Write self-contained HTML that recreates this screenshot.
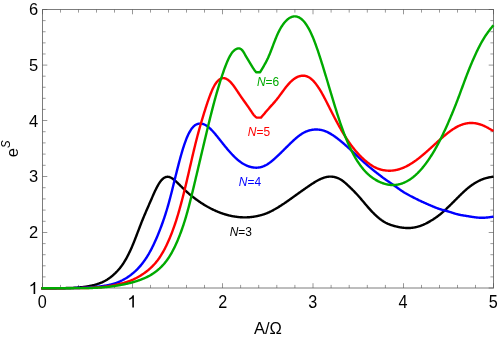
<!DOCTYPE html>
<html><head><meta charset="utf-8"><title>chart</title>
<style>
html,body{margin:0;padding:0;background:#fff;}
body{width:498px;height:339px;overflow:hidden;}
svg{display:block;font-family:"Liberation Sans",sans-serif;will-change:transform;}
</style></head><body>
<svg width="498" height="339" viewBox="0 0 498 339">
<rect width="498" height="339" fill="#fff"/>
<g fill="none" stroke="#7c7c7c" stroke-width="1.0">
<rect x="42.5" y="9.5" width="451.0" height="278.5"/>
<path d="M42.50,288.0 v-4.8 M42.50,9.5 v4.8 M42.5,288.00 h4.8 M493.5,288.00 h-4.8 M132.50,288.0 v-4.8 M132.50,9.5 v4.8 M42.5,232.50 h4.8 M493.5,232.50 h-4.8 M222.50,288.0 v-4.8 M222.50,9.5 v4.8 M42.5,176.50 h4.8 M493.5,176.50 h-4.8 M313.00,288.0 v-4.8 M313.00,9.5 v4.8 M42.5,120.50 h4.8 M493.5,120.50 h-4.8 M403.50,288.0 v-4.8 M403.50,9.5 v4.8 M42.5,65.10 h4.8 M493.5,65.10 h-4.8 M493.50,288.0 v-4.8 M493.50,9.5 v4.8 M42.5,9.50 h4.8 M493.5,9.50 h-4.8" stroke="#505050" stroke-width="0.6"/>
<path d="M60.50,288.0 v-3.1 M60.50,9.5 v3.1 M42.5,276.90 h3.1 M493.5,276.90 h-3.1 M78.50,288.0 v-3.1 M78.50,9.5 v3.1 M42.5,265.80 h3.1 M493.5,265.80 h-3.1 M96.50,288.0 v-3.1 M96.50,9.5 v3.1 M42.5,254.70 h3.1 M493.5,254.70 h-3.1 M114.50,288.0 v-3.1 M114.50,9.5 v3.1 M42.5,243.60 h3.1 M493.5,243.60 h-3.1 M150.50,288.0 v-3.1 M150.50,9.5 v3.1 M42.5,221.30 h3.1 M493.5,221.30 h-3.1 M168.50,288.0 v-3.1 M168.50,9.5 v3.1 M42.5,210.10 h3.1 M493.5,210.10 h-3.1 M186.50,288.0 v-3.1 M186.50,9.5 v3.1 M42.5,198.90 h3.1 M493.5,198.90 h-3.1 M204.50,288.0 v-3.1 M204.50,9.5 v3.1 M42.5,187.70 h3.1 M493.5,187.70 h-3.1 M240.60,288.0 v-3.1 M240.60,9.5 v3.1 M42.5,165.30 h3.1 M493.5,165.30 h-3.1 M258.70,288.0 v-3.1 M258.70,9.5 v3.1 M42.5,154.10 h3.1 M493.5,154.10 h-3.1 M276.80,288.0 v-3.1 M276.80,9.5 v3.1 M42.5,142.90 h3.1 M493.5,142.90 h-3.1 M294.90,288.0 v-3.1 M294.90,9.5 v3.1 M42.5,131.70 h3.1 M493.5,131.70 h-3.1 M331.10,288.0 v-3.1 M331.10,9.5 v3.1 M42.5,109.42 h3.1 M493.5,109.42 h-3.1 M349.20,288.0 v-3.1 M349.20,9.5 v3.1 M42.5,98.34 h3.1 M493.5,98.34 h-3.1 M367.30,288.0 v-3.1 M367.30,9.5 v3.1 M42.5,87.26 h3.1 M493.5,87.26 h-3.1 M385.40,288.0 v-3.1 M385.40,9.5 v3.1 M42.5,76.18 h3.1 M493.5,76.18 h-3.1 M421.50,288.0 v-3.1 M421.50,9.5 v3.1 M42.5,53.98 h3.1 M493.5,53.98 h-3.1 M439.50,288.0 v-3.1 M439.50,9.5 v3.1 M42.5,42.86 h3.1 M493.5,42.86 h-3.1 M457.50,288.0 v-3.1 M457.50,9.5 v3.1 M42.5,31.74 h3.1 M493.5,31.74 h-3.1 M475.50,288.0 v-3.1 M475.50,9.5 v3.1 M42.5,20.62 h3.1 M493.5,20.62 h-3.1" stroke="#585858" stroke-width="0.6"/>
</g>
<g fill="none" stroke-width="2.4" stroke-linejoin="round" stroke-linecap="butt">
<path d="M41.30,288.20 L42.50,288.20 L42.95,288.20 L43.40,288.20 L43.85,288.20 L44.30,288.20 L44.76,288.20 L45.21,288.20 L45.66,288.20 L46.11,288.20 L46.56,288.20 L47.01,288.20 L47.46,288.20 L47.91,288.20 L48.36,288.20 L48.81,288.20 L49.27,288.20 L49.72,288.20 L50.17,288.20 L50.62,288.20 L51.07,288.20 L51.52,288.20 L51.97,288.20 L52.42,288.20 L52.87,288.20 L53.32,288.19 L53.77,288.19 L54.23,288.19 L54.68,288.19 L55.13,288.19 L55.58,288.18 L56.03,288.18 L56.48,288.18 L56.93,288.17 L57.38,288.17 L57.83,288.17 L58.29,288.16 L58.74,288.16 L59.19,288.16 L59.64,288.15 L60.09,288.15 L60.54,288.14 L60.99,288.14 L61.44,288.13 L61.89,288.13 L62.34,288.12 L62.80,288.12 L63.25,288.11 L63.70,288.11 L64.15,288.10 L64.60,288.09 L65.05,288.09 L65.50,288.08 L65.95,288.07 L66.40,288.06 L66.85,288.05 L67.31,288.04 L67.76,288.03 L68.21,288.02 L68.66,288.00 L69.11,287.99 L69.56,287.98 L70.01,287.96 L70.46,287.95 L70.91,287.93 L71.36,287.91 L71.81,287.89 L72.27,287.87 L72.72,287.85 L73.17,287.83 L73.62,287.81 L74.07,287.79 L74.52,287.76 L74.97,287.73 L75.42,287.71 L75.87,287.68 L76.33,287.65 L76.78,287.62 L77.23,287.58 L77.68,287.55 L78.13,287.51 L78.58,287.48 L79.03,287.44 L79.48,287.40 L79.93,287.35 L80.38,287.31 L80.83,287.27 L81.29,287.22 L81.74,287.17 L82.19,287.12 L82.64,287.07 L83.09,287.01 L83.54,286.96 L83.99,286.90 L84.44,286.84 L84.89,286.78 L85.34,286.71 L85.80,286.65 L86.25,286.58 L86.70,286.51 L87.15,286.44 L87.60,286.36 L88.05,286.29 L88.50,286.21 L88.95,286.13 L89.40,286.04 L89.86,285.96 L90.31,285.87 L90.76,285.77 L91.21,285.68 L91.66,285.58 L92.11,285.48 L92.56,285.38 L93.01,285.27 L93.46,285.16 L93.91,285.05 L94.37,284.94 L94.82,284.82 L95.27,284.69 L95.72,284.57 L96.17,284.44 L96.62,284.30 L97.07,284.16 L97.52,284.02 L97.97,283.87 L98.42,283.72 L98.88,283.57 L99.33,283.41 L99.78,283.24 L100.23,283.07 L100.68,282.89 L101.13,282.71 L101.58,282.52 L102.03,282.33 L102.48,282.12 L102.93,281.92 L103.39,281.70 L103.84,281.48 L104.29,281.25 L104.74,281.01 L105.19,280.77 L105.64,280.51 L106.09,280.25 L106.54,279.98 L106.99,279.70 L107.44,279.42 L107.89,279.12 L108.35,278.82 L108.80,278.51 L109.25,278.19 L109.70,277.86 L110.15,277.53 L110.60,277.19 L111.05,276.83 L111.50,276.47 L111.95,276.10 L112.41,275.73 L112.86,275.34 L113.31,274.95 L113.76,274.55 L114.21,274.14 L114.66,273.72 L115.11,273.29 L115.56,272.86 L116.01,272.41 L116.46,271.95 L116.92,271.49 L117.37,271.01 L117.82,270.52 L118.27,270.02 L118.72,269.51 L119.17,268.98 L119.62,268.44 L120.07,267.89 L120.52,267.32 L120.97,266.73 L121.42,266.13 L121.88,265.51 L122.33,264.87 L122.78,264.22 L123.23,263.55 L123.68,262.86 L124.13,262.15 L124.58,261.42 L125.03,260.67 L125.48,259.90 L125.94,259.11 L126.39,258.30 L126.84,257.48 L127.29,256.63 L127.74,255.77 L128.19,254.88 L128.64,253.98 L129.09,253.06 L129.54,252.12 L129.99,251.17 L130.44,250.19 L130.90,249.19 L131.35,248.18 L131.80,247.15 L132.25,246.10 L132.70,245.03 L133.15,243.95 L133.60,242.84 L134.05,241.73 L134.50,240.60 L134.95,239.45 L135.41,238.30 L135.86,237.14 L136.31,235.97 L136.76,234.79 L137.21,233.61 L137.66,232.43 L138.11,231.25 L138.56,230.06 L139.01,228.88 L139.47,227.70 L139.92,226.53 L140.37,225.36 L140.82,224.20 L141.27,223.06 L141.72,221.92 L142.17,220.79 L142.62,219.68 L143.07,218.57 L143.52,217.48 L143.97,216.40 L144.43,215.32 L144.88,214.25 L145.33,213.19 L145.78,212.14 L146.23,211.09 L146.68,210.05 L147.13,209.01 L147.58,207.97 L148.03,206.94 L148.49,205.91 L148.94,204.88 L149.39,203.85 L149.84,202.82 L150.29,201.79 L150.74,200.75 L151.19,199.71 L151.64,198.68 L152.09,197.64 L152.54,196.61 L153.00,195.58 L153.45,194.56 L153.90,193.56 L154.35,192.56 L154.80,191.58 L155.25,190.61 L155.70,189.67 L156.15,188.74 L156.60,187.84 L157.05,186.97 L157.51,186.12 L157.96,185.30 L158.41,184.52 L158.86,183.76 L159.31,183.05 L159.76,182.37 L160.21,181.73 L160.66,181.14 L161.11,180.58 L161.56,180.06 L162.01,179.58 L162.47,179.15 L162.92,178.75 L163.37,178.38 L163.82,178.06 L164.27,177.78 L164.72,177.53 L165.17,177.31 L165.62,177.14 L166.07,177.00 L166.53,176.90 L166.98,176.83 L167.43,176.80 L167.88,176.80 L168.33,176.84 L168.78,176.91 L169.23,177.01 L169.68,177.15 L170.13,177.31 L170.58,177.50 L171.04,177.72 L171.49,177.97 L171.94,178.23 L172.39,178.52 L172.84,178.83 L173.29,179.16 L173.74,179.50 L174.19,179.87 L174.64,180.24 L175.09,180.63 L175.55,181.03 L176.00,181.44 L176.45,181.86 L176.90,182.28 L177.35,182.72 L177.80,183.15 L178.25,183.59 L178.70,184.03 L179.15,184.47 L179.60,184.91 L180.06,185.35 L180.51,185.79 L180.96,186.24 L181.41,186.68 L181.86,187.12 L182.31,187.56 L182.76,188.00 L183.21,188.44 L183.66,188.88 L184.11,189.31 L184.56,189.74 L185.02,190.17 L185.47,190.59 L185.92,191.01 L186.37,191.43 L186.82,191.84 L187.27,192.25 L187.72,192.65 L188.17,193.04 L188.62,193.43 L189.07,193.82 L189.53,194.20 L189.98,194.58 L190.43,194.96 L190.88,195.33 L191.33,195.69 L191.78,196.06 L192.23,196.41 L192.68,196.77 L193.13,197.12 L193.59,197.47 L194.04,197.81 L194.49,198.15 L194.94,198.49 L195.39,198.83 L195.84,199.16 L196.29,199.49 L196.74,199.82 L197.19,200.14 L197.64,200.46 L198.09,200.78 L198.55,201.10 L199.00,201.41 L199.45,201.72 L199.90,202.03 L200.35,202.33 L200.80,202.63 L201.25,202.93 L201.70,203.23 L202.15,203.52 L202.61,203.81 L203.06,204.09 L203.51,204.38 L203.96,204.66 L204.41,204.93 L204.86,205.21 L205.31,205.48 L205.76,205.75 L206.21,206.01 L206.66,206.27 L207.11,206.53 L207.57,206.78 L208.02,207.04 L208.47,207.28 L208.92,207.53 L209.37,207.77 L209.82,208.01 L210.27,208.25 L210.72,208.48 L211.17,208.71 L211.62,208.94 L212.08,209.16 L212.53,209.38 L212.98,209.60 L213.43,209.82 L213.88,210.03 L214.33,210.24 L214.78,210.44 L215.23,210.65 L215.68,210.85 L216.14,211.05 L216.59,211.24 L217.04,211.43 L217.49,211.62 L217.94,211.81 L218.39,211.99 L218.84,212.17 L219.29,212.34 L219.74,212.52 L220.19,212.69 L220.65,212.86 L221.10,213.02 L221.55,213.18 L222.00,213.34 L222.45,213.50 L222.90,213.65 L223.35,213.80 L223.80,213.94 L224.25,214.09 L224.70,214.23 L225.16,214.37 L225.61,214.50 L226.06,214.63 L226.51,214.76 L226.96,214.89 L227.41,215.01 L227.86,215.13 L228.31,215.24 L228.76,215.36 L229.21,215.47 L229.67,215.57 L230.12,215.68 L230.57,215.78 L231.02,215.88 L231.47,215.97 L231.92,216.06 L232.37,216.15 L232.82,216.24 L233.27,216.32 L233.72,216.40 L234.18,216.47 L234.63,216.55 L235.08,216.62 L235.53,216.68 L235.98,216.75 L236.43,216.81 L236.88,216.87 L237.33,216.92 L237.78,216.97 L238.23,217.02 L238.69,217.07 L239.14,217.11 L239.59,217.15 L240.04,217.18 L240.49,217.21 L240.94,217.24 L241.39,217.27 L241.84,217.29 L242.29,217.31 L242.74,217.33 L243.19,217.34 L243.65,217.35 L244.10,217.36 L244.55,217.36 L245.00,217.36 L245.45,217.36 L245.90,217.35 L246.35,217.34 L246.80,217.33 L247.25,217.31 L247.70,217.29 L248.16,217.27 L248.61,217.24 L249.06,217.21 L249.51,217.18 L249.96,217.14 L250.41,217.10 L250.86,217.05 L251.31,217.01 L251.76,216.95 L252.22,216.90 L252.67,216.84 L253.12,216.78 L253.57,216.72 L254.02,216.65 L254.47,216.57 L254.92,216.50 L255.37,216.42 L255.82,216.34 L256.27,216.25 L256.73,216.16 L257.18,216.07 L257.63,215.98 L258.08,215.88 L258.53,215.78 L258.98,215.67 L259.43,215.56 L259.88,215.45 L260.33,215.33 L260.78,215.21 L261.24,215.09 L261.69,214.97 L262.14,214.83 L262.59,214.70 L263.04,214.56 L263.49,214.42 L263.94,214.27 L264.39,214.12 L264.84,213.96 L265.29,213.80 L265.75,213.64 L266.20,213.47 L266.65,213.29 L267.10,213.11 L267.55,212.92 L268.00,212.73 L268.45,212.54 L268.90,212.34 L269.35,212.13 L269.80,211.92 L270.25,211.70 L270.71,211.48 L271.16,211.26 L271.61,211.03 L272.06,210.79 L272.51,210.56 L272.96,210.32 L273.41,210.07 L273.86,209.82 L274.31,209.57 L274.76,209.31 L275.22,209.06 L275.67,208.79 L276.12,208.53 L276.57,208.26 L277.02,207.99 L277.47,207.72 L277.92,207.45 L278.37,207.17 L278.82,206.89 L279.27,206.61 L279.73,206.32 L280.18,206.04 L280.63,205.75 L281.08,205.46 L281.53,205.17 L281.98,204.87 L282.43,204.58 L282.88,204.28 L283.33,203.98 L283.79,203.68 L284.24,203.37 L284.69,203.07 L285.14,202.76 L285.59,202.45 L286.04,202.14 L286.49,201.83 L286.94,201.52 L287.39,201.20 L287.84,200.89 L288.30,200.57 L288.75,200.25 L289.20,199.93 L289.65,199.61 L290.10,199.29 L290.55,198.97 L291.00,198.65 L291.45,198.33 L291.90,198.00 L292.35,197.68 L292.80,197.36 L293.26,197.03 L293.71,196.71 L294.16,196.39 L294.61,196.06 L295.06,195.74 L295.51,195.41 L295.96,195.09 L296.41,194.77 L296.86,194.45 L297.31,194.13 L297.77,193.80 L298.22,193.48 L298.67,193.16 L299.12,192.84 L299.57,192.52 L300.02,192.20 L300.47,191.88 L300.92,191.56 L301.37,191.24 L301.82,190.92 L302.28,190.60 L302.73,190.29 L303.18,189.97 L303.63,189.65 L304.08,189.33 L304.53,189.02 L304.98,188.70 L305.43,188.38 L305.88,188.07 L306.34,187.75 L306.79,187.44 L307.24,187.12 L307.69,186.81 L308.14,186.50 L308.59,186.19 L309.04,185.89 L309.49,185.58 L309.94,185.27 L310.39,184.97 L310.85,184.67 L311.30,184.37 L311.75,184.08 L312.20,183.78 L312.65,183.49 L313.10,183.21 L313.55,182.92 L314.00,182.64 L314.45,182.36 L314.90,182.08 L315.35,181.81 L315.81,181.54 L316.26,181.28 L316.71,181.02 L317.16,180.77 L317.61,180.52 L318.06,180.27 L318.51,180.03 L318.96,179.80 L319.41,179.58 L319.87,179.36 L320.32,179.14 L320.77,178.94 L321.22,178.74 L321.67,178.54 L322.12,178.36 L322.57,178.18 L323.02,178.01 L323.47,177.85 L323.92,177.70 L324.38,177.56 L324.83,177.43 L325.28,177.30 L325.73,177.19 L326.18,177.08 L326.63,176.98 L327.08,176.90 L327.53,176.82 L327.98,176.76 L328.43,176.71 L328.89,176.66 L329.34,176.63 L329.79,176.61 L330.24,176.61 L330.69,176.61 L331.14,176.62 L331.59,176.65 L332.04,176.69 L332.49,176.73 L332.94,176.79 L333.40,176.86 L333.85,176.94 L334.30,177.03 L334.75,177.13 L335.20,177.24 L335.65,177.36 L336.10,177.49 L336.55,177.63 L337.00,177.78 L337.45,177.94 L337.90,178.11 L338.36,178.30 L338.81,178.50 L339.26,178.72 L339.71,178.95 L340.16,179.20 L340.61,179.46 L341.06,179.74 L341.51,180.03 L341.96,180.34 L342.42,180.66 L342.87,180.99 L343.32,181.33 L343.77,181.69 L344.22,182.05 L344.67,182.43 L345.12,182.81 L345.57,183.21 L346.02,183.61 L346.47,184.01 L346.93,184.42 L347.38,184.84 L347.83,185.26 L348.28,185.69 L348.73,186.12 L349.18,186.55 L349.63,186.98 L350.08,187.41 L350.53,187.85 L350.98,188.28 L351.44,188.72 L351.89,189.17 L352.34,189.61 L352.79,190.06 L353.24,190.51 L353.69,190.96 L354.14,191.42 L354.59,191.88 L355.04,192.35 L355.49,192.82 L355.95,193.29 L356.40,193.77 L356.85,194.25 L357.30,194.74 L357.75,195.24 L358.20,195.74 L358.65,196.24 L359.10,196.76 L359.55,197.27 L360.00,197.79 L360.45,198.32 L360.91,198.84 L361.36,199.37 L361.81,199.91 L362.26,200.44 L362.71,200.98 L363.16,201.52 L363.61,202.06 L364.06,202.59 L364.51,203.13 L364.97,203.67 L365.42,204.20 L365.87,204.74 L366.32,205.27 L366.77,205.80 L367.22,206.32 L367.67,206.84 L368.12,207.36 L368.57,207.87 L369.02,208.38 L369.48,208.88 L369.93,209.38 L370.38,209.88 L370.83,210.37 L371.28,210.85 L371.73,211.33 L372.18,211.80 L372.63,212.27 L373.08,212.73 L373.53,213.19 L373.99,213.64 L374.44,214.08 L374.89,214.52 L375.34,214.95 L375.79,215.37 L376.24,215.79 L376.69,216.20 L377.14,216.60 L377.59,217.00 L378.04,217.38 L378.50,217.76 L378.95,218.14 L379.40,218.50 L379.85,218.86 L380.30,219.20 L380.75,219.54 L381.20,219.88 L381.65,220.20 L382.10,220.52 L382.55,220.82 L383.00,221.12 L383.46,221.41 L383.91,221.69 L384.36,221.96 L384.81,222.22 L385.26,222.47 L385.71,222.72 L386.16,222.95 L386.61,223.18 L387.06,223.39 L387.51,223.60 L387.97,223.80 L388.42,224.00 L388.87,224.18 L389.32,224.36 L389.77,224.54 L390.22,224.71 L390.67,224.87 L391.12,225.02 L391.57,225.17 L392.02,225.32 L392.48,225.46 L392.93,225.60 L393.38,225.73 L393.83,225.86 L394.28,225.98 L394.73,226.11 L395.18,226.23 L395.63,226.34 L396.08,226.45 L396.54,226.56 L396.99,226.67 L397.44,226.77 L397.89,226.87 L398.34,226.97 L398.79,227.06 L399.24,227.15 L399.69,227.24 L400.14,227.32 L400.59,227.39 L401.05,227.47 L401.50,227.53 L401.95,227.60 L402.40,227.66 L402.85,227.71 L403.30,227.77 L403.75,227.81 L404.20,227.85 L404.65,227.89 L405.10,227.92 L405.56,227.95 L406.01,227.98 L406.46,227.99 L406.91,228.01 L407.36,228.02 L407.81,228.02 L408.26,228.02 L408.71,228.01 L409.16,228.00 L409.61,227.98 L410.06,227.96 L410.52,227.93 L410.97,227.90 L411.42,227.86 L411.87,227.82 L412.32,227.77 L412.77,227.71 L413.22,227.65 L413.67,227.58 L414.12,227.51 L414.57,227.43 L415.03,227.34 L415.48,227.25 L415.93,227.16 L416.38,227.06 L416.83,226.95 L417.28,226.83 L417.73,226.71 L418.18,226.59 L418.63,226.46 L419.08,226.32 L419.54,226.17 L419.99,226.02 L420.44,225.87 L420.89,225.71 L421.34,225.54 L421.79,225.36 L422.24,225.18 L422.69,225.00 L423.14,224.81 L423.59,224.61 L424.05,224.40 L424.50,224.20 L424.95,223.98 L425.40,223.77 L425.85,223.54 L426.30,223.32 L426.75,223.08 L427.20,222.85 L427.65,222.61 L428.11,222.36 L428.56,222.11 L429.01,221.86 L429.46,221.60 L429.91,221.34 L430.36,221.08 L430.81,220.82 L431.26,220.55 L431.71,220.27 L432.16,220.00 L432.62,219.72 L433.07,219.43 L433.52,219.14 L433.97,218.85 L434.42,218.55 L434.87,218.25 L435.32,217.94 L435.77,217.63 L436.22,217.32 L436.67,217.00 L437.12,216.67 L437.58,216.34 L438.03,216.00 L438.48,215.66 L438.93,215.31 L439.38,214.95 L439.83,214.59 L440.28,214.23 L440.73,213.85 L441.18,213.48 L441.63,213.09 L442.09,212.71 L442.54,212.31 L442.99,211.92 L443.44,211.51 L443.89,211.11 L444.34,210.70 L444.79,210.29 L445.24,209.87 L445.69,209.45 L446.15,209.03 L446.60,208.60 L447.05,208.17 L447.50,207.74 L447.95,207.31 L448.40,206.88 L448.85,206.44 L449.30,206.01 L449.75,205.57 L450.20,205.13 L450.66,204.69 L451.11,204.24 L451.56,203.80 L452.01,203.36 L452.46,202.91 L452.91,202.46 L453.36,202.02 L453.81,201.57 L454.26,201.12 L454.71,200.67 L455.17,200.22 L455.62,199.77 L456.07,199.32 L456.52,198.87 L456.97,198.42 L457.42,197.97 L457.87,197.51 L458.32,197.06 L458.77,196.61 L459.22,196.16 L459.68,195.71 L460.13,195.26 L460.58,194.82 L461.03,194.37 L461.48,193.93 L461.93,193.49 L462.38,193.06 L462.83,192.63 L463.28,192.20 L463.73,191.77 L464.18,191.35 L464.64,190.94 L465.09,190.53 L465.54,190.12 L465.99,189.73 L466.44,189.33 L466.89,188.95 L467.34,188.57 L467.79,188.19 L468.24,187.82 L468.70,187.46 L469.15,187.11 L469.60,186.76 L470.05,186.41 L470.50,186.08 L470.95,185.75 L471.40,185.42 L471.85,185.10 L472.30,184.79 L472.75,184.48 L473.21,184.18 L473.66,183.88 L474.11,183.59 L474.56,183.31 L475.01,183.03 L475.46,182.76 L475.91,182.49 L476.36,182.23 L476.81,181.98 L477.26,181.73 L477.72,181.48 L478.17,181.25 L478.62,181.01 L479.07,180.79 L479.52,180.57 L479.97,180.36 L480.42,180.15 L480.87,179.95 L481.32,179.75 L481.77,179.57 L482.23,179.39 L482.68,179.21 L483.13,179.04 L483.58,178.88 L484.03,178.73 L484.48,178.58 L484.93,178.44 L485.38,178.31 L485.83,178.18 L486.28,178.06 L486.73,177.94 L487.19,177.83 L487.64,177.73 L488.09,177.62 L488.54,177.53 L488.99,177.43 L489.44,177.34 L489.89,177.26 L490.34,177.17 L490.79,177.09 L491.25,177.01 L491.70,176.93 L492.15,176.86 L492.60,176.78 L493.05,176.71 L493.50,176.63" stroke="#000000"/>
<path d="M41.30,288.20 L42.50,288.20 L42.95,288.20 L43.40,288.20 L43.85,288.20 L44.30,288.20 L44.76,288.20 L45.21,288.20 L45.66,288.20 L46.11,288.20 L46.56,288.20 L47.01,288.20 L47.46,288.20 L47.91,288.20 L48.36,288.20 L48.81,288.20 L49.27,288.20 L49.72,288.20 L50.17,288.20 L50.62,288.20 L51.07,288.20 L51.52,288.20 L51.97,288.20 L52.42,288.20 L52.87,288.20 L53.32,288.20 L53.77,288.20 L54.23,288.20 L54.68,288.20 L55.13,288.20 L55.58,288.20 L56.03,288.20 L56.48,288.20 L56.93,288.20 L57.38,288.20 L57.83,288.20 L58.29,288.20 L58.74,288.20 L59.19,288.20 L59.64,288.20 L60.09,288.20 L60.54,288.20 L60.99,288.20 L61.44,288.20 L61.89,288.20 L62.34,288.19 L62.80,288.19 L63.25,288.19 L63.70,288.19 L64.15,288.19 L64.60,288.18 L65.05,288.18 L65.50,288.18 L65.95,288.17 L66.40,288.17 L66.85,288.17 L67.31,288.16 L67.76,288.16 L68.21,288.16 L68.66,288.15 L69.11,288.15 L69.56,288.14 L70.01,288.14 L70.46,288.14 L70.91,288.13 L71.36,288.13 L71.81,288.12 L72.27,288.11 L72.72,288.11 L73.17,288.10 L73.62,288.09 L74.07,288.09 L74.52,288.08 L74.97,288.07 L75.42,288.06 L75.87,288.05 L76.33,288.04 L76.78,288.03 L77.23,288.02 L77.68,288.00 L78.13,287.99 L78.58,287.98 L79.03,287.96 L79.48,287.95 L79.93,287.93 L80.38,287.91 L80.83,287.89 L81.29,287.87 L81.74,287.85 L82.19,287.83 L82.64,287.81 L83.09,287.79 L83.54,287.77 L83.99,287.74 L84.44,287.72 L84.89,287.69 L85.34,287.67 L85.80,287.64 L86.25,287.61 L86.70,287.59 L87.15,287.56 L87.60,287.53 L88.05,287.50 L88.50,287.47 L88.95,287.44 L89.40,287.41 L89.86,287.38 L90.31,287.35 L90.76,287.32 L91.21,287.28 L91.66,287.25 L92.11,287.21 L92.56,287.18 L93.01,287.14 L93.46,287.10 L93.91,287.06 L94.37,287.02 L94.82,286.98 L95.27,286.94 L95.72,286.90 L96.17,286.85 L96.62,286.81 L97.07,286.76 L97.52,286.71 L97.97,286.66 L98.42,286.61 L98.88,286.56 L99.33,286.50 L99.78,286.45 L100.23,286.39 L100.68,286.33 L101.13,286.27 L101.58,286.21 L102.03,286.15 L102.48,286.08 L102.93,286.02 L103.39,285.95 L103.84,285.88 L104.29,285.81 L104.74,285.73 L105.19,285.66 L105.64,285.58 L106.09,285.50 L106.54,285.42 L106.99,285.34 L107.44,285.26 L107.89,285.17 L108.35,285.08 L108.80,284.99 L109.25,284.89 L109.70,284.79 L110.15,284.69 L110.60,284.59 L111.05,284.48 L111.50,284.37 L111.95,284.25 L112.41,284.13 L112.86,284.01 L113.31,283.88 L113.76,283.74 L114.21,283.61 L114.66,283.47 L115.11,283.32 L115.56,283.17 L116.01,283.01 L116.46,282.85 L116.92,282.68 L117.37,282.51 L117.82,282.33 L118.27,282.15 L118.72,281.96 L119.17,281.77 L119.62,281.57 L120.07,281.37 L120.52,281.17 L120.97,280.95 L121.42,280.73 L121.88,280.51 L122.33,280.28 L122.78,280.05 L123.23,279.81 L123.68,279.57 L124.13,279.32 L124.58,279.06 L125.03,278.80 L125.48,278.54 L125.94,278.26 L126.39,277.99 L126.84,277.70 L127.29,277.41 L127.74,277.12 L128.19,276.82 L128.64,276.51 L129.09,276.19 L129.54,275.87 L129.99,275.55 L130.44,275.21 L130.90,274.87 L131.35,274.52 L131.80,274.17 L132.25,273.81 L132.70,273.44 L133.15,273.06 L133.60,272.68 L134.05,272.29 L134.50,271.89 L134.95,271.48 L135.41,271.07 L135.86,270.65 L136.31,270.21 L136.76,269.77 L137.21,269.32 L137.66,268.86 L138.11,268.39 L138.56,267.91 L139.01,267.42 L139.47,266.92 L139.92,266.41 L140.37,265.88 L140.82,265.35 L141.27,264.81 L141.72,264.25 L142.17,263.68 L142.62,263.10 L143.07,262.51 L143.52,261.90 L143.97,261.28 L144.43,260.65 L144.88,260.01 L145.33,259.35 L145.78,258.68 L146.23,257.99 L146.68,257.29 L147.13,256.58 L147.58,255.85 L148.03,255.10 L148.49,254.35 L148.94,253.57 L149.39,252.78 L149.84,251.98 L150.29,251.16 L150.74,250.32 L151.19,249.47 L151.64,248.60 L152.09,247.72 L152.54,246.82 L153.00,245.90 L153.45,244.97 L153.90,244.02 L154.35,243.06 L154.80,242.08 L155.25,241.08 L155.70,240.07 L156.15,239.04 L156.60,238.00 L157.05,236.94 L157.51,235.87 L157.96,234.78 L158.41,233.67 L158.86,232.56 L159.31,231.42 L159.76,230.27 L160.21,229.11 L160.66,227.93 L161.11,226.73 L161.56,225.52 L162.01,224.28 L162.47,223.03 L162.92,221.76 L163.37,220.46 L163.82,219.15 L164.27,217.81 L164.72,216.45 L165.17,215.06 L165.62,213.65 L166.07,212.21 L166.53,210.74 L166.98,209.25 L167.43,207.73 L167.88,206.18 L168.33,204.59 L168.78,202.98 L169.23,201.33 L169.68,199.66 L170.13,197.95 L170.58,196.23 L171.04,194.48 L171.49,192.71 L171.94,190.92 L172.39,189.12 L172.84,187.31 L173.29,185.49 L173.74,183.66 L174.19,181.83 L174.64,179.99 L175.09,178.16 L175.55,176.33 L176.00,174.51 L176.45,172.69 L176.90,170.89 L177.35,169.10 L177.80,167.33 L178.25,165.58 L178.70,163.84 L179.15,162.13 L179.60,160.45 L180.06,158.78 L180.51,157.15 L180.96,155.54 L181.41,153.96 L181.86,152.41 L182.31,150.89 L182.76,149.41 L183.21,147.96 L183.66,146.55 L184.11,145.18 L184.56,143.84 L185.02,142.55 L185.47,141.30 L185.92,140.09 L186.37,138.93 L186.82,137.81 L187.27,136.74 L187.72,135.72 L188.17,134.75 L188.62,133.82 L189.07,132.94 L189.53,132.10 L189.98,131.31 L190.43,130.56 L190.88,129.85 L191.33,129.19 L191.78,128.56 L192.23,127.98 L192.68,127.44 L193.13,126.94 L193.59,126.47 L194.04,126.05 L194.49,125.66 L194.94,125.31 L195.39,125.00 L195.84,124.72 L196.29,124.48 L196.74,124.27 L197.19,124.09 L197.64,123.94 L198.09,123.82 L198.55,123.73 L199.00,123.67 L199.45,123.63 L199.90,123.61 L200.35,123.61 L200.80,123.63 L201.25,123.67 L201.70,123.73 L202.15,123.81 L202.61,123.91 L203.06,124.03 L203.51,124.17 L203.96,124.33 L204.41,124.51 L204.86,124.72 L205.31,124.95 L205.76,125.20 L206.21,125.47 L206.66,125.76 L207.11,126.07 L207.57,126.39 L208.02,126.74 L208.47,127.10 L208.92,127.48 L209.37,127.88 L209.82,128.29 L210.27,128.71 L210.72,129.15 L211.17,129.60 L211.62,130.06 L212.08,130.53 L212.53,131.01 L212.98,131.51 L213.43,132.01 L213.88,132.52 L214.33,133.04 L214.78,133.56 L215.23,134.09 L215.68,134.63 L216.14,135.17 L216.59,135.72 L217.04,136.28 L217.49,136.83 L217.94,137.39 L218.39,137.96 L218.84,138.52 L219.29,139.09 L219.74,139.66 L220.19,140.24 L220.65,140.81 L221.10,141.38 L221.55,141.95 L222.00,142.52 L222.45,143.09 L222.90,143.66 L223.35,144.22 L223.80,144.79 L224.25,145.35 L224.70,145.90 L225.16,146.46 L225.61,147.01 L226.06,147.55 L226.51,148.10 L226.96,148.63 L227.41,149.17 L227.86,149.70 L228.31,150.23 L228.76,150.75 L229.21,151.26 L229.67,151.77 L230.12,152.28 L230.57,152.78 L231.02,153.27 L231.47,153.76 L231.92,154.24 L232.37,154.72 L232.82,155.19 L233.27,155.65 L233.72,156.10 L234.18,156.55 L234.63,156.99 L235.08,157.43 L235.53,157.85 L235.98,158.27 L236.43,158.68 L236.88,159.08 L237.33,159.48 L237.78,159.86 L238.23,160.24 L238.69,160.61 L239.14,160.97 L239.59,161.32 L240.04,161.66 L240.49,162.00 L240.94,162.32 L241.39,162.63 L241.84,162.93 L242.29,163.23 L242.74,163.51 L243.19,163.79 L243.65,164.05 L244.10,164.31 L244.55,164.55 L245.00,164.79 L245.45,165.02 L245.90,165.24 L246.35,165.44 L246.80,165.64 L247.25,165.83 L247.70,166.01 L248.16,166.18 L248.61,166.35 L249.06,166.50 L249.51,166.64 L249.96,166.77 L250.41,166.90 L250.86,167.01 L251.31,167.12 L251.76,167.22 L252.22,167.30 L252.67,167.38 L253.12,167.45 L253.57,167.51 L254.02,167.57 L254.47,167.61 L254.92,167.64 L255.37,167.67 L255.82,167.68 L256.27,167.69 L256.73,167.68 L257.18,167.67 L257.63,167.64 L258.08,167.61 L258.53,167.56 L258.98,167.50 L259.43,167.43 L259.88,167.34 L260.33,167.25 L260.78,167.14 L261.24,167.02 L261.69,166.89 L262.14,166.75 L262.59,166.59 L263.04,166.43 L263.49,166.25 L263.94,166.06 L264.39,165.86 L264.84,165.65 L265.29,165.43 L265.75,165.20 L266.20,164.96 L266.65,164.70 L267.10,164.44 L267.55,164.16 L268.00,163.88 L268.45,163.58 L268.90,163.28 L269.35,162.96 L269.80,162.63 L270.25,162.30 L270.71,161.96 L271.16,161.61 L271.61,161.25 L272.06,160.88 L272.51,160.51 L272.96,160.13 L273.41,159.74 L273.86,159.35 L274.31,158.95 L274.76,158.55 L275.22,158.14 L275.67,157.73 L276.12,157.32 L276.57,156.90 L277.02,156.48 L277.47,156.06 L277.92,155.63 L278.37,155.20 L278.82,154.77 L279.27,154.34 L279.73,153.90 L280.18,153.46 L280.63,153.02 L281.08,152.58 L281.53,152.14 L281.98,151.70 L282.43,151.25 L282.88,150.81 L283.33,150.36 L283.79,149.92 L284.24,149.47 L284.69,149.02 L285.14,148.57 L285.59,148.12 L286.04,147.67 L286.49,147.23 L286.94,146.78 L287.39,146.33 L287.84,145.88 L288.30,145.44 L288.75,144.99 L289.20,144.55 L289.65,144.11 L290.10,143.67 L290.55,143.23 L291.00,142.80 L291.45,142.36 L291.90,141.94 L292.35,141.51 L292.80,141.09 L293.26,140.67 L293.71,140.26 L294.16,139.85 L294.61,139.45 L295.06,139.05 L295.51,138.65 L295.96,138.26 L296.41,137.88 L296.86,137.50 L297.31,137.13 L297.77,136.77 L298.22,136.41 L298.67,136.06 L299.12,135.72 L299.57,135.38 L300.02,135.06 L300.47,134.74 L300.92,134.43 L301.37,134.12 L301.82,133.83 L302.28,133.55 L302.73,133.27 L303.18,133.01 L303.63,132.75 L304.08,132.51 L304.53,132.28 L304.98,132.05 L305.43,131.84 L305.88,131.64 L306.34,131.45 L306.79,131.26 L307.24,131.09 L307.69,130.93 L308.14,130.78 L308.59,130.63 L309.04,130.50 L309.49,130.37 L309.94,130.26 L310.39,130.15 L310.85,130.05 L311.30,129.96 L311.75,129.88 L312.20,129.81 L312.65,129.75 L313.10,129.69 L313.55,129.64 L314.00,129.60 L314.45,129.57 L314.90,129.55 L315.35,129.53 L315.81,129.52 L316.26,129.52 L316.71,129.53 L317.16,129.54 L317.61,129.56 L318.06,129.58 L318.51,129.62 L318.96,129.66 L319.41,129.71 L319.87,129.77 L320.32,129.84 L320.77,129.91 L321.22,130.00 L321.67,130.09 L322.12,130.20 L322.57,130.31 L323.02,130.44 L323.47,130.57 L323.92,130.71 L324.38,130.86 L324.83,131.02 L325.28,131.19 L325.73,131.37 L326.18,131.56 L326.63,131.75 L327.08,131.95 L327.53,132.16 L327.98,132.38 L328.43,132.61 L328.89,132.84 L329.34,133.09 L329.79,133.33 L330.24,133.59 L330.69,133.85 L331.14,134.12 L331.59,134.40 L332.04,134.68 L332.49,134.97 L332.94,135.27 L333.40,135.57 L333.85,135.88 L334.30,136.19 L334.75,136.51 L335.20,136.83 L335.65,137.16 L336.10,137.49 L336.55,137.82 L337.00,138.17 L337.45,138.51 L337.90,138.86 L338.36,139.21 L338.81,139.57 L339.26,139.93 L339.71,140.29 L340.16,140.66 L340.61,141.02 L341.06,141.39 L341.51,141.77 L341.96,142.14 L342.42,142.52 L342.87,142.90 L343.32,143.28 L343.77,143.67 L344.22,144.06 L344.67,144.45 L345.12,144.84 L345.57,145.23 L346.02,145.63 L346.47,146.03 L346.93,146.43 L347.38,146.83 L347.83,147.24 L348.28,147.64 L348.73,148.05 L349.18,148.46 L349.63,148.87 L350.08,149.29 L350.53,149.70 L350.98,150.12 L351.44,150.54 L351.89,150.96 L352.34,151.38 L352.79,151.80 L353.24,152.22 L353.69,152.64 L354.14,153.07 L354.59,153.49 L355.04,153.92 L355.49,154.34 L355.95,154.77 L356.40,155.20 L356.85,155.62 L357.30,156.05 L357.75,156.48 L358.20,156.90 L358.65,157.33 L359.10,157.75 L359.55,158.18 L360.00,158.60 L360.45,159.02 L360.91,159.45 L361.36,159.87 L361.81,160.29 L362.26,160.70 L362.71,161.12 L363.16,161.53 L363.61,161.95 L364.06,162.36 L364.51,162.76 L364.97,163.17 L365.42,163.57 L365.87,163.97 L366.32,164.37 L366.77,164.77 L367.22,165.16 L367.67,165.55 L368.12,165.93 L368.57,166.31 L369.02,166.69 L369.48,167.07 L369.93,167.44 L370.38,167.81 L370.83,168.18 L371.28,168.55 L371.73,168.92 L372.18,169.28 L372.63,169.64 L373.08,170.00 L373.53,170.36 L373.99,170.72 L374.44,171.08 L374.89,171.43 L375.34,171.79 L375.79,172.14 L376.24,172.49 L376.69,172.85 L377.14,173.20 L377.59,173.55 L378.04,173.90 L378.50,174.25 L378.95,174.60 L379.40,174.95 L379.85,175.30 L380.30,175.64 L380.75,175.99 L381.20,176.33 L381.65,176.67 L382.10,177.01 L382.55,177.35 L383.00,177.69 L383.46,178.02 L383.91,178.35 L384.36,178.68 L384.81,179.01 L385.26,179.33 L385.71,179.66 L386.16,179.98 L386.61,180.29 L387.06,180.61 L387.51,180.92 L387.97,181.24 L388.42,181.55 L388.87,181.86 L389.32,182.17 L389.77,182.48 L390.22,182.78 L390.67,183.09 L391.12,183.40 L391.57,183.71 L392.02,184.02 L392.48,184.33 L392.93,184.65 L393.38,184.96 L393.83,185.28 L394.28,185.59 L394.73,185.91 L395.18,186.23 L395.63,186.56 L396.08,186.88 L396.54,187.20 L396.99,187.53 L397.44,187.85 L397.89,188.18 L398.34,188.50 L398.79,188.82 L399.24,189.14 L399.69,189.46 L400.14,189.78 L400.59,190.09 L401.05,190.40 L401.50,190.71 L401.95,191.01 L402.40,191.31 L402.85,191.61 L403.30,191.90 L403.75,192.18 L404.20,192.46 L404.65,192.74 L405.10,193.01 L405.56,193.27 L406.01,193.54 L406.46,193.80 L406.91,194.05 L407.36,194.30 L407.81,194.55 L408.26,194.80 L408.71,195.04 L409.16,195.28 L409.61,195.52 L410.06,195.76 L410.52,195.99 L410.97,196.22 L411.42,196.46 L411.87,196.69 L412.32,196.92 L412.77,197.15 L413.22,197.38 L413.67,197.61 L414.12,197.84 L414.57,198.07 L415.03,198.30 L415.48,198.53 L415.93,198.75 L416.38,198.98 L416.83,199.20 L417.28,199.43 L417.73,199.65 L418.18,199.87 L418.63,200.09 L419.08,200.31 L419.54,200.52 L419.99,200.74 L420.44,200.95 L420.89,201.17 L421.34,201.38 L421.79,201.59 L422.24,201.80 L422.69,202.00 L423.14,202.21 L423.59,202.41 L424.05,202.61 L424.50,202.81 L424.95,203.01 L425.40,203.21 L425.85,203.41 L426.30,203.61 L426.75,203.81 L427.20,204.00 L427.65,204.20 L428.11,204.39 L428.56,204.59 L429.01,204.78 L429.46,204.98 L429.91,205.17 L430.36,205.37 L430.81,205.56 L431.26,205.76 L431.71,205.95 L432.16,206.14 L432.62,206.34 L433.07,206.53 L433.52,206.72 L433.97,206.91 L434.42,207.10 L434.87,207.28 L435.32,207.47 L435.77,207.65 L436.22,207.82 L436.67,208.00 L437.12,208.17 L437.58,208.34 L438.03,208.50 L438.48,208.66 L438.93,208.81 L439.38,208.96 L439.83,209.11 L440.28,209.25 L440.73,209.39 L441.18,209.52 L441.63,209.65 L442.09,209.78 L442.54,209.91 L442.99,210.03 L443.44,210.15 L443.89,210.28 L444.34,210.40 L444.79,210.52 L445.24,210.64 L445.69,210.76 L446.15,210.88 L446.60,211.00 L447.05,211.13 L447.50,211.25 L447.95,211.38 L448.40,211.52 L448.85,211.65 L449.30,211.79 L449.75,211.93 L450.20,212.08 L450.66,212.22 L451.11,212.37 L451.56,212.51 L452.01,212.66 L452.46,212.81 L452.91,212.96 L453.36,213.10 L453.81,213.24 L454.26,213.39 L454.71,213.53 L455.17,213.66 L455.62,213.80 L456.07,213.93 L456.52,214.06 L456.97,214.18 L457.42,214.29 L457.87,214.41 L458.32,214.51 L458.77,214.61 L459.22,214.71 L459.68,214.80 L460.13,214.89 L460.58,214.98 L461.03,215.06 L461.48,215.14 L461.93,215.22 L462.38,215.29 L462.83,215.37 L463.28,215.44 L463.73,215.51 L464.18,215.58 L464.64,215.65 L465.09,215.72 L465.54,215.79 L465.99,215.87 L466.44,215.94 L466.89,216.01 L467.34,216.09 L467.79,216.16 L468.24,216.24 L468.70,216.31 L469.15,216.39 L469.60,216.47 L470.05,216.54 L470.50,216.62 L470.95,216.69 L471.40,216.77 L471.85,216.84 L472.30,216.91 L472.75,216.98 L473.21,217.05 L473.66,217.12 L474.11,217.18 L474.56,217.24 L475.01,217.30 L475.46,217.35 L475.91,217.41 L476.36,217.46 L476.81,217.50 L477.26,217.54 L477.72,217.58 L478.17,217.62 L478.62,217.65 L479.07,217.68 L479.52,217.70 L479.97,217.72 L480.42,217.74 L480.87,217.75 L481.32,217.76 L481.77,217.76 L482.23,217.76 L482.68,217.76 L483.13,217.75 L483.58,217.74 L484.03,217.72 L484.48,217.70 L484.93,217.68 L485.38,217.65 L485.83,217.61 L486.28,217.57 L486.73,217.53 L487.19,217.49 L487.64,217.44 L488.09,217.39 L488.54,217.33 L488.99,217.28 L489.44,217.22 L489.89,217.16 L490.34,217.09 L490.79,217.03 L491.25,216.96 L491.70,216.90 L492.15,216.83 L492.60,216.76 L493.05,216.69 L493.50,216.62" stroke="#0000ff"/>
<path d="M41.30,288.20 L42.50,288.20 L42.95,288.20 L43.40,288.20 L43.85,288.20 L44.30,288.20 L44.76,288.20 L45.21,288.20 L45.66,288.20 L46.11,288.20 L46.56,288.20 L47.01,288.20 L47.46,288.20 L47.91,288.20 L48.36,288.20 L48.81,288.20 L49.27,288.20 L49.72,288.20 L50.17,288.20 L50.62,288.20 L51.07,288.20 L51.52,288.20 L51.97,288.20 L52.42,288.20 L52.87,288.20 L53.32,288.20 L53.77,288.20 L54.23,288.20 L54.68,288.20 L55.13,288.20 L55.58,288.20 L56.03,288.20 L56.48,288.20 L56.93,288.20 L57.38,288.20 L57.83,288.20 L58.29,288.20 L58.74,288.20 L59.19,288.20 L59.64,288.20 L60.09,288.20 L60.54,288.20 L60.99,288.20 L61.44,288.20 L61.89,288.20 L62.34,288.19 L62.80,288.19 L63.25,288.19 L63.70,288.19 L64.15,288.18 L64.60,288.18 L65.05,288.18 L65.50,288.17 L65.95,288.17 L66.40,288.17 L66.85,288.16 L67.31,288.16 L67.76,288.16 L68.21,288.15 L68.66,288.15 L69.11,288.15 L69.56,288.14 L70.01,288.14 L70.46,288.14 L70.91,288.13 L71.36,288.13 L71.81,288.13 L72.27,288.12 L72.72,288.12 L73.17,288.12 L73.62,288.12 L74.07,288.11 L74.52,288.11 L74.97,288.11 L75.42,288.10 L75.87,288.10 L76.33,288.10 L76.78,288.10 L77.23,288.09 L77.68,288.09 L78.13,288.09 L78.58,288.09 L79.03,288.09 L79.48,288.09 L79.93,288.08 L80.38,288.08 L80.83,288.08 L81.29,288.08 L81.74,288.07 L82.19,288.07 L82.64,288.07 L83.09,288.06 L83.54,288.06 L83.99,288.05 L84.44,288.05 L84.89,288.04 L85.34,288.03 L85.80,288.02 L86.25,288.01 L86.70,288.00 L87.15,287.99 L87.60,287.98 L88.05,287.96 L88.50,287.95 L88.95,287.93 L89.40,287.91 L89.86,287.89 L90.31,287.87 L90.76,287.85 L91.21,287.82 L91.66,287.80 L92.11,287.77 L92.56,287.75 L93.01,287.72 L93.46,287.69 L93.91,287.66 L94.37,287.63 L94.82,287.60 L95.27,287.57 L95.72,287.54 L96.17,287.51 L96.62,287.48 L97.07,287.44 L97.52,287.41 L97.97,287.38 L98.42,287.34 L98.88,287.31 L99.33,287.27 L99.78,287.23 L100.23,287.20 L100.68,287.16 L101.13,287.12 L101.58,287.08 L102.03,287.03 L102.48,286.99 L102.93,286.95 L103.39,286.90 L103.84,286.85 L104.29,286.80 L104.74,286.75 L105.19,286.70 L105.64,286.64 L106.09,286.58 L106.54,286.52 L106.99,286.46 L107.44,286.40 L107.89,286.33 L108.35,286.27 L108.80,286.20 L109.25,286.13 L109.70,286.06 L110.15,285.98 L110.60,285.91 L111.05,285.83 L111.50,285.75 L111.95,285.67 L112.41,285.58 L112.86,285.50 L113.31,285.41 L113.76,285.32 L114.21,285.23 L114.66,285.14 L115.11,285.04 L115.56,284.95 L116.01,284.85 L116.46,284.75 L116.92,284.65 L117.37,284.54 L117.82,284.44 L118.27,284.33 L118.72,284.22 L119.17,284.11 L119.62,284.00 L120.07,283.89 L120.52,283.77 L120.97,283.65 L121.42,283.53 L121.88,283.41 L122.33,283.29 L122.78,283.16 L123.23,283.04 L123.68,282.91 L124.13,282.78 L124.58,282.64 L125.03,282.51 L125.48,282.37 L125.94,282.23 L126.39,282.09 L126.84,281.94 L127.29,281.80 L127.74,281.65 L128.19,281.49 L128.64,281.33 L129.09,281.17 L129.54,281.01 L129.99,280.84 L130.44,280.66 L130.90,280.49 L131.35,280.31 L131.80,280.12 L132.25,279.93 L132.70,279.73 L133.15,279.53 L133.60,279.33 L134.05,279.12 L134.50,278.90 L134.95,278.68 L135.41,278.46 L135.86,278.23 L136.31,278.00 L136.76,277.76 L137.21,277.52 L137.66,277.27 L138.11,277.02 L138.56,276.76 L139.01,276.50 L139.47,276.23 L139.92,275.96 L140.37,275.69 L140.82,275.41 L141.27,275.12 L141.72,274.83 L142.17,274.54 L142.62,274.24 L143.07,273.94 L143.52,273.63 L143.97,273.32 L144.43,273.00 L144.88,272.67 L145.33,272.34 L145.78,272.01 L146.23,271.67 L146.68,271.32 L147.13,270.96 L147.58,270.60 L148.03,270.23 L148.49,269.86 L148.94,269.48 L149.39,269.09 L149.84,268.69 L150.29,268.28 L150.74,267.87 L151.19,267.45 L151.64,267.02 L152.09,266.58 L152.54,266.13 L153.00,265.67 L153.45,265.20 L153.90,264.72 L154.35,264.23 L154.80,263.73 L155.25,263.21 L155.70,262.68 L156.15,262.14 L156.60,261.59 L157.05,261.02 L157.51,260.44 L157.96,259.84 L158.41,259.22 L158.86,258.59 L159.31,257.95 L159.76,257.29 L160.21,256.61 L160.66,255.91 L161.11,255.20 L161.56,254.46 L162.01,253.72 L162.47,252.95 L162.92,252.16 L163.37,251.36 L163.82,250.54 L164.27,249.70 L164.72,248.85 L165.17,247.97 L165.62,247.08 L166.07,246.16 L166.53,245.23 L166.98,244.28 L167.43,243.32 L167.88,242.33 L168.33,241.32 L168.78,240.30 L169.23,239.25 L169.68,238.19 L170.13,237.11 L170.58,236.00 L171.04,234.88 L171.49,233.73 L171.94,232.56 L172.39,231.37 L172.84,230.16 L173.29,228.92 L173.74,227.67 L174.19,226.38 L174.64,225.08 L175.09,223.75 L175.55,222.39 L176.00,221.01 L176.45,219.61 L176.90,218.18 L177.35,216.72 L177.80,215.23 L178.25,213.72 L178.70,212.18 L179.15,210.62 L179.60,209.03 L180.06,207.42 L180.51,205.78 L180.96,204.12 L181.41,202.43 L181.86,200.73 L182.31,199.00 L182.76,197.25 L183.21,195.49 L183.66,193.70 L184.11,191.89 L184.56,190.07 L185.02,188.23 L185.47,186.37 L185.92,184.49 L186.37,182.60 L186.82,180.70 L187.27,178.78 L187.72,176.85 L188.17,174.91 L188.62,172.96 L189.07,171.00 L189.53,169.04 L189.98,167.08 L190.43,165.11 L190.88,163.15 L191.33,161.19 L191.78,159.24 L192.23,157.30 L192.68,155.36 L193.13,153.44 L193.59,151.53 L194.04,149.64 L194.49,147.76 L194.94,145.91 L195.39,144.08 L195.84,142.27 L196.29,140.48 L196.74,138.72 L197.19,136.99 L197.64,135.28 L198.09,133.59 L198.55,131.92 L199.00,130.28 L199.45,128.66 L199.90,127.05 L200.35,125.47 L200.80,123.90 L201.25,122.35 L201.70,120.82 L202.15,119.31 L202.61,117.81 L203.06,116.32 L203.51,114.85 L203.96,113.40 L204.41,111.95 L204.86,110.52 L205.31,109.10 L205.76,107.69 L206.21,106.29 L206.66,104.91 L207.11,103.55 L207.57,102.21 L208.02,100.90 L208.47,99.60 L208.92,98.33 L209.37,97.09 L209.82,95.88 L210.27,94.70 L210.72,93.55 L211.17,92.43 L211.62,91.35 L212.08,90.31 L212.53,89.31 L212.98,88.35 L213.43,87.44 L213.88,86.57 L214.33,85.74 L214.78,84.96 L215.23,84.23 L215.68,83.55 L216.14,82.90 L216.59,82.31 L217.04,81.75 L217.49,81.24 L217.94,80.77 L218.39,80.34 L218.84,79.95 L219.29,79.60 L219.74,79.29 L220.19,79.02 L220.65,78.78 L221.10,78.58 L221.55,78.42 L222.00,78.30 L222.45,78.21 L222.90,78.16 L223.35,78.13 L223.80,78.15 L224.25,78.20 L224.70,78.28 L225.16,78.40 L225.61,78.55 L226.06,78.73 L226.51,78.95 L226.96,79.19 L227.41,79.47 L227.86,79.77 L228.31,80.10 L228.76,80.46 L229.21,80.85 L229.67,81.26 L230.12,81.70 L230.57,82.16 L231.02,82.64 L231.47,83.14 L231.92,83.67 L232.37,84.22 L232.82,84.78 L233.27,85.36 L233.72,85.96 L234.18,86.58 L234.63,87.21 L235.08,87.85 L235.53,88.50 L235.98,89.15 L236.43,89.82 L236.88,90.49 L237.33,91.17 L237.78,91.85 L238.23,92.53 L238.69,93.22 L239.14,93.90 L239.59,94.58 L240.04,95.26 L240.49,95.93 L240.94,96.59 L241.39,97.25 L241.84,97.90 L242.29,98.54 L242.74,99.18 L243.19,99.81 L243.65,100.44 L244.10,101.07 L244.55,101.70 L245.00,102.32 L245.45,102.95 L245.90,103.57 L246.35,104.20 L246.80,104.83 L247.25,105.47 L247.70,106.10 L248.16,106.75 L248.61,107.40 L249.06,108.06 L249.51,108.73 L249.96,109.40 L250.41,110.09 L250.86,110.78 L251.31,111.46 L251.76,112.14 L252.22,112.81 L252.67,113.45 L253.12,114.07 L253.57,114.65 L254.02,115.20 L254.47,115.70 L254.92,116.15 L255.37,116.56 L255.82,116.94 L256.27,117.30 L256.73,117.65 L256.73,117.65 L257.20,117.65 L257.67,117.65 L258.14,117.65 L258.61,117.65 L259.08,117.65 L259.55,117.65 L260.02,117.65 L260.49,117.65 L260.96,117.65 L260.96,117.65 L261.42,117.12 L261.87,116.59 L262.32,116.07 L262.77,115.54 L263.22,115.01 L263.67,114.48 L264.13,113.94 L264.58,113.41 L265.03,112.88 L265.48,112.34 L265.93,111.81 L266.38,111.28 L266.83,110.75 L267.29,110.22 L267.74,109.70 L268.19,109.19 L268.64,108.68 L269.09,108.17 L269.54,107.67 L269.99,107.17 L270.45,106.67 L270.90,106.17 L271.35,105.67 L271.80,105.18 L272.25,104.68 L272.70,104.17 L273.16,103.67 L273.61,103.16 L274.06,102.65 L274.51,102.13 L274.96,101.61 L275.41,101.08 L275.86,100.54 L276.32,99.99 L276.77,99.43 L277.22,98.86 L277.67,98.29 L278.12,97.70 L278.57,97.11 L279.03,96.50 L279.48,95.90 L279.93,95.29 L280.38,94.67 L280.83,94.05 L281.28,93.43 L281.73,92.81 L282.19,92.19 L282.64,91.57 L283.09,90.95 L283.54,90.34 L283.99,89.73 L284.44,89.13 L284.90,88.53 L285.35,87.94 L285.80,87.36 L286.25,86.79 L286.70,86.24 L287.15,85.69 L287.60,85.15 L288.06,84.63 L288.51,84.11 L288.96,83.61 L289.41,83.13 L289.86,82.65 L290.31,82.19 L290.77,81.75 L291.22,81.31 L291.67,80.89 L292.12,80.49 L292.57,80.10 L293.02,79.73 L293.47,79.37 L293.93,79.03 L294.38,78.71 L294.83,78.40 L295.28,78.11 L295.73,77.84 L296.18,77.59 L296.63,77.35 L297.09,77.13 L297.54,76.92 L297.99,76.73 L298.44,76.56 L298.89,76.41 L299.34,76.27 L299.80,76.14 L300.25,76.04 L300.70,75.94 L301.15,75.87 L301.60,75.80 L302.05,75.76 L302.50,75.72 L302.96,75.71 L303.41,75.70 L303.86,75.72 L304.31,75.75 L304.76,75.80 L305.21,75.88 L305.67,75.98 L306.12,76.10 L306.57,76.24 L307.02,76.40 L307.47,76.58 L307.92,76.79 L308.37,77.01 L308.83,77.26 L309.28,77.53 L309.73,77.82 L310.18,78.13 L310.63,78.47 L311.08,78.82 L311.54,79.20 L311.99,79.59 L312.44,80.01 L312.89,80.45 L313.34,80.92 L313.79,81.40 L314.24,81.90 L314.70,82.43 L315.15,82.97 L315.60,83.54 L316.05,84.12 L316.50,84.72 L316.95,85.34 L317.41,85.98 L317.86,86.64 L318.31,87.31 L318.76,87.99 L319.21,88.70 L319.66,89.42 L320.11,90.15 L320.57,90.90 L321.02,91.66 L321.47,92.44 L321.92,93.23 L322.37,94.03 L322.82,94.84 L323.27,95.67 L323.73,96.50 L324.18,97.35 L324.63,98.20 L325.08,99.06 L325.53,99.93 L325.98,100.81 L326.44,101.69 L326.89,102.57 L327.34,103.46 L327.79,104.36 L328.24,105.25 L328.69,106.15 L329.14,107.05 L329.60,107.95 L330.05,108.85 L330.50,109.75 L330.95,110.64 L331.40,111.53 L331.85,112.42 L332.31,113.31 L332.76,114.19 L333.21,115.07 L333.66,115.94 L334.11,116.81 L334.56,117.68 L335.01,118.54 L335.47,119.40 L335.92,120.25 L336.37,121.10 L336.82,121.94 L337.27,122.78 L337.72,123.61 L338.18,124.43 L338.63,125.25 L339.08,126.07 L339.53,126.88 L339.98,127.68 L340.43,128.48 L340.88,129.27 L341.34,130.05 L341.79,130.82 L342.24,131.59 L342.69,132.36 L343.14,133.11 L343.59,133.86 L344.05,134.60 L344.50,135.34 L344.95,136.06 L345.40,136.78 L345.85,137.49 L346.30,138.20 L346.75,138.89 L347.21,139.58 L347.66,140.26 L348.11,140.93 L348.56,141.59 L349.01,142.24 L349.46,142.89 L349.91,143.52 L350.37,144.15 L350.82,144.77 L351.27,145.38 L351.72,145.98 L352.17,146.58 L352.62,147.16 L353.08,147.74 L353.53,148.31 L353.98,148.87 L354.43,149.43 L354.88,149.98 L355.33,150.51 L355.78,151.05 L356.24,151.57 L356.69,152.09 L357.14,152.60 L357.59,153.10 L358.04,153.59 L358.49,154.08 L358.95,154.56 L359.40,155.04 L359.85,155.51 L360.30,155.97 L360.75,156.42 L361.20,156.87 L361.65,157.31 L362.11,157.74 L362.56,158.17 L363.01,158.59 L363.46,159.01 L363.91,159.42 L364.36,159.82 L364.82,160.21 L365.27,160.60 L365.72,160.98 L366.17,161.36 L366.62,161.73 L367.07,162.09 L367.52,162.45 L367.98,162.80 L368.43,163.14 L368.88,163.48 L369.33,163.81 L369.78,164.13 L370.23,164.45 L370.69,164.76 L371.14,165.06 L371.59,165.35 L372.04,165.64 L372.49,165.92 L372.94,166.19 L373.39,166.46 L373.85,166.71 L374.30,166.96 L374.75,167.20 L375.20,167.43 L375.65,167.65 L376.10,167.86 L376.55,168.07 L377.01,168.26 L377.46,168.45 L377.91,168.63 L378.36,168.80 L378.81,168.96 L379.26,169.11 L379.72,169.25 L380.17,169.39 L380.62,169.52 L381.07,169.64 L381.52,169.76 L381.97,169.86 L382.42,169.96 L382.88,170.06 L383.33,170.14 L383.78,170.22 L384.23,170.30 L384.68,170.37 L385.13,170.43 L385.59,170.48 L386.04,170.53 L386.49,170.58 L386.94,170.61 L387.39,170.64 L387.84,170.67 L388.29,170.69 L388.75,170.70 L389.20,170.71 L389.65,170.71 L390.10,170.70 L390.55,170.69 L391.00,170.67 L391.46,170.65 L391.91,170.62 L392.36,170.58 L392.81,170.54 L393.26,170.49 L393.71,170.43 L394.16,170.37 L394.62,170.30 L395.07,170.22 L395.52,170.14 L395.97,170.05 L396.42,169.95 L396.87,169.85 L397.33,169.74 L397.78,169.63 L398.23,169.51 L398.68,169.38 L399.13,169.25 L399.58,169.11 L400.03,168.96 L400.49,168.81 L400.94,168.65 L401.39,168.49 L401.84,168.32 L402.29,168.15 L402.74,167.97 L403.19,167.78 L403.65,167.59 L404.10,167.39 L404.55,167.19 L405.00,166.98 L405.45,166.76 L405.90,166.55 L406.36,166.32 L406.81,166.09 L407.26,165.85 L407.71,165.61 L408.16,165.37 L408.61,165.12 L409.06,164.86 L409.52,164.60 L409.97,164.33 L410.42,164.06 L410.87,163.79 L411.32,163.51 L411.77,163.22 L412.23,162.93 L412.68,162.64 L413.13,162.34 L413.58,162.04 L414.03,161.73 L414.48,161.42 L414.93,161.10 L415.39,160.78 L415.84,160.45 L416.29,160.13 L416.74,159.79 L417.19,159.46 L417.64,159.12 L418.10,158.77 L418.55,158.43 L419.00,158.07 L419.45,157.72 L419.90,157.36 L420.35,157.00 L420.80,156.64 L421.26,156.27 L421.71,155.90 L422.16,155.53 L422.61,155.15 L423.06,154.77 L423.51,154.39 L423.97,154.00 L424.42,153.62 L424.87,153.23 L425.32,152.84 L425.77,152.44 L426.22,152.05 L426.67,151.65 L427.13,151.25 L427.58,150.85 L428.03,150.45 L428.48,150.05 L428.93,149.64 L429.38,149.23 L429.83,148.82 L430.29,148.42 L430.74,148.01 L431.19,147.59 L431.64,147.18 L432.09,146.77 L432.54,146.36 L433.00,145.94 L433.45,145.53 L433.90,145.11 L434.35,144.70 L434.80,144.29 L435.25,143.87 L435.70,143.46 L436.16,143.05 L436.61,142.63 L437.06,142.22 L437.51,141.81 L437.96,141.40 L438.41,140.99 L438.87,140.58 L439.32,140.18 L439.77,139.77 L440.22,139.37 L440.67,138.97 L441.12,138.57 L441.57,138.17 L442.03,137.77 L442.48,137.38 L442.93,136.99 L443.38,136.60 L443.83,136.21 L444.28,135.83 L444.74,135.45 L445.19,135.07 L445.64,134.70 L446.09,134.33 L446.54,133.96 L446.99,133.60 L447.44,133.24 L447.90,132.89 L448.35,132.54 L448.80,132.20 L449.25,131.85 L449.70,131.52 L450.15,131.19 L450.61,130.86 L451.06,130.54 L451.51,130.22 L451.96,129.91 L452.41,129.61 L452.86,129.31 L453.31,129.01 L453.77,128.72 L454.22,128.44 L454.67,128.17 L455.12,127.90 L455.57,127.63 L456.02,127.38 L456.47,127.12 L456.93,126.88 L457.38,126.64 L457.83,126.41 L458.28,126.19 L458.73,125.97 L459.18,125.77 L459.64,125.56 L460.09,125.37 L460.54,125.18 L460.99,125.00 L461.44,124.83 L461.89,124.67 L462.34,124.51 L462.80,124.36 L463.25,124.21 L463.70,124.08 L464.15,123.95 L464.60,123.83 L465.05,123.72 L465.51,123.62 L465.96,123.52 L466.41,123.43 L466.86,123.35 L467.31,123.28 L467.76,123.21 L468.21,123.16 L468.67,123.11 L469.12,123.07 L469.57,123.03 L470.02,123.01 L470.47,122.99 L470.92,122.98 L471.38,122.98 L471.83,122.98 L472.28,123.00 L472.73,123.02 L473.18,123.05 L473.63,123.08 L474.08,123.13 L474.54,123.18 L474.99,123.24 L475.44,123.31 L475.89,123.38 L476.34,123.46 L476.79,123.55 L477.25,123.64 L477.70,123.75 L478.15,123.86 L478.60,123.97 L479.05,124.09 L479.50,124.23 L479.95,124.36 L480.41,124.51 L480.86,124.66 L481.31,124.81 L481.76,124.98 L482.21,125.15 L482.66,125.33 L483.11,125.51 L483.57,125.70 L484.02,125.90 L484.47,126.10 L484.92,126.31 L485.37,126.52 L485.82,126.74 L486.28,126.97 L486.73,127.20 L487.18,127.44 L487.63,127.68 L488.08,127.93 L488.53,128.17 L488.98,128.43 L489.44,128.68 L489.89,128.94 L490.34,129.20 L490.79,129.46 L491.24,129.73 L491.69,129.99 L492.15,130.26 L492.60,130.53 L493.05,130.80 L493.50,131.07" stroke="#ff0000"/>
<path d="M41.30,288.20 L42.50,288.20 L42.95,288.20 L43.40,288.20 L43.85,288.20 L44.31,288.20 L44.76,288.20 L45.21,288.20 L45.66,288.20 L46.11,288.20 L46.56,288.20 L47.02,288.20 L47.47,288.20 L47.92,288.20 L48.37,288.20 L48.82,288.20 L49.27,288.20 L49.73,288.20 L50.18,288.20 L50.63,288.20 L51.08,288.20 L51.53,288.20 L51.98,288.20 L52.43,288.20 L52.89,288.20 L53.34,288.20 L53.79,288.20 L54.24,288.20 L54.69,288.20 L55.14,288.20 L55.60,288.20 L56.05,288.20 L56.50,288.20 L56.95,288.20 L57.40,288.20 L57.85,288.20 L58.31,288.20 L58.76,288.20 L59.21,288.20 L59.66,288.20 L60.11,288.20 L60.56,288.20 L61.01,288.20 L61.47,288.20 L61.92,288.20 L62.37,288.20 L62.82,288.20 L63.27,288.20 L63.72,288.20 L64.18,288.20 L64.63,288.21 L65.08,288.21 L65.53,288.21 L65.98,288.21 L66.43,288.21 L66.88,288.21 L67.34,288.21 L67.79,288.20 L68.24,288.20 L68.69,288.20 L69.14,288.20 L69.59,288.20 L70.05,288.20 L70.50,288.20 L70.95,288.19 L71.40,288.19 L71.85,288.19 L72.30,288.18 L72.76,288.18 L73.21,288.18 L73.66,288.18 L74.11,288.17 L74.56,288.17 L75.01,288.17 L75.46,288.16 L75.92,288.16 L76.37,288.16 L76.82,288.15 L77.27,288.15 L77.72,288.15 L78.17,288.15 L78.63,288.14 L79.08,288.14 L79.53,288.14 L79.98,288.14 L80.43,288.14 L80.88,288.14 L81.34,288.14 L81.79,288.14 L82.24,288.14 L82.69,288.13 L83.14,288.13 L83.59,288.13 L84.04,288.13 L84.50,288.12 L84.95,288.12 L85.40,288.12 L85.85,288.11 L86.30,288.11 L86.75,288.10 L87.21,288.10 L87.66,288.09 L88.11,288.08 L88.56,288.07 L89.01,288.06 L89.46,288.05 L89.92,288.04 L90.37,288.02 L90.82,288.01 L91.27,287.99 L91.72,287.98 L92.17,287.96 L92.62,287.94 L93.08,287.92 L93.53,287.91 L93.98,287.89 L94.43,287.87 L94.88,287.84 L95.33,287.82 L95.79,287.80 L96.24,287.78 L96.69,287.75 L97.14,287.73 L97.59,287.70 L98.04,287.67 L98.49,287.65 L98.95,287.62 L99.40,287.59 L99.85,287.56 L100.30,287.53 L100.75,287.50 L101.20,287.46 L101.66,287.43 L102.11,287.39 L102.56,287.36 L103.01,287.32 L103.46,287.28 L103.91,287.25 L104.37,287.21 L104.82,287.16 L105.27,287.12 L105.72,287.08 L106.17,287.03 L106.62,286.99 L107.07,286.94 L107.53,286.89 L107.98,286.84 L108.43,286.79 L108.88,286.74 L109.33,286.69 L109.78,286.63 L110.24,286.58 L110.69,286.52 L111.14,286.46 L111.59,286.40 L112.04,286.34 L112.49,286.28 L112.95,286.22 L113.40,286.16 L113.85,286.09 L114.30,286.03 L114.75,285.96 L115.20,285.89 L115.65,285.82 L116.11,285.75 L116.56,285.68 L117.01,285.61 L117.46,285.54 L117.91,285.46 L118.36,285.39 L118.82,285.31 L119.27,285.23 L119.72,285.15 L120.17,285.07 L120.62,284.99 L121.07,284.91 L121.53,284.83 L121.98,284.74 L122.43,284.66 L122.88,284.57 L123.33,284.48 L123.78,284.39 L124.23,284.30 L124.69,284.21 L125.14,284.12 L125.59,284.02 L126.04,283.92 L126.49,283.83 L126.94,283.73 L127.40,283.63 L127.85,283.52 L128.30,283.42 L128.75,283.31 L129.20,283.20 L129.65,283.09 L130.10,282.98 L130.56,282.87 L131.01,282.75 L131.46,282.63 L131.91,282.51 L132.36,282.39 L132.81,282.26 L133.27,282.14 L133.72,282.01 L134.17,281.87 L134.62,281.74 L135.07,281.60 L135.52,281.46 L135.98,281.32 L136.43,281.17 L136.88,281.03 L137.33,280.88 L137.78,280.72 L138.23,280.57 L138.68,280.41 L139.14,280.25 L139.59,280.09 L140.04,279.92 L140.49,279.76 L140.94,279.59 L141.39,279.41 L141.85,279.24 L142.30,279.06 L142.75,278.88 L143.20,278.70 L143.65,278.51 L144.10,278.32 L144.56,278.12 L145.01,277.93 L145.46,277.72 L145.91,277.52 L146.36,277.31 L146.81,277.09 L147.26,276.87 L147.72,276.65 L148.17,276.42 L148.62,276.18 L149.07,275.94 L149.52,275.69 L149.97,275.44 L150.43,275.18 L150.88,274.92 L151.33,274.65 L151.78,274.37 L152.23,274.08 L152.68,273.79 L153.14,273.49 L153.59,273.19 L154.04,272.88 L154.49,272.56 L154.94,272.23 L155.39,271.90 L155.84,271.56 L156.30,271.21 L156.75,270.85 L157.20,270.48 L157.65,270.11 L158.10,269.73 L158.55,269.34 L159.01,268.94 L159.46,268.54 L159.91,268.12 L160.36,267.70 L160.81,267.27 L161.26,266.82 L161.72,266.37 L162.17,265.91 L162.62,265.43 L163.07,264.95 L163.52,264.45 L163.97,263.94 L164.42,263.41 L164.88,262.87 L165.33,262.32 L165.78,261.75 L166.23,261.17 L166.68,260.57 L167.13,259.95 L167.59,259.32 L168.04,258.67 L168.49,258.01 L168.94,257.32 L169.39,256.62 L169.84,255.89 L170.29,255.15 L170.75,254.39 L171.20,253.61 L171.65,252.81 L172.10,252.00 L172.55,251.16 L173.00,250.31 L173.46,249.43 L173.91,248.54 L174.36,247.62 L174.81,246.69 L175.26,245.74 L175.71,244.77 L176.17,243.77 L176.62,242.76 L177.07,241.73 L177.52,240.68 L177.97,239.61 L178.42,238.52 L178.87,237.41 L179.33,236.27 L179.78,235.12 L180.23,233.94 L180.68,232.74 L181.13,231.52 L181.58,230.27 L182.04,229.00 L182.49,227.70 L182.94,226.37 L183.39,225.02 L183.84,223.65 L184.29,222.24 L184.75,220.81 L185.20,219.34 L185.65,217.85 L186.10,216.33 L186.55,214.78 L187.00,213.19 L187.45,211.58 L187.91,209.94 L188.36,208.27 L188.81,206.57 L189.26,204.85 L189.71,203.10 L190.16,201.34 L190.62,199.55 L191.07,197.74 L191.52,195.92 L191.97,194.08 L192.42,192.23 L192.87,190.37 L193.33,188.49 L193.78,186.61 L194.23,184.71 L194.68,182.81 L195.13,180.91 L195.58,179.00 L196.03,177.09 L196.49,175.18 L196.94,173.27 L197.39,171.36 L197.84,169.45 L198.29,167.53 L198.74,165.62 L199.20,163.71 L199.65,161.79 L200.10,159.88 L200.55,157.97 L201.00,156.06 L201.45,154.14 L201.90,152.23 L202.36,150.32 L202.81,148.42 L203.26,146.51 L203.71,144.60 L204.16,142.70 L204.61,140.79 L205.07,138.89 L205.52,136.99 L205.97,135.10 L206.42,133.20 L206.87,131.32 L207.32,129.44 L207.78,127.56 L208.23,125.69 L208.68,123.83 L209.13,121.98 L209.58,120.14 L210.03,118.31 L210.48,116.49 L210.94,114.69 L211.39,112.89 L211.84,111.11 L212.29,109.35 L212.74,107.60 L213.19,105.87 L213.65,104.16 L214.10,102.46 L214.55,100.79 L215.00,99.13 L215.45,97.49 L215.90,95.87 L216.36,94.27 L216.81,92.69 L217.26,91.13 L217.71,89.58 L218.16,88.06 L218.61,86.55 L219.06,85.06 L219.52,83.60 L219.97,82.15 L220.42,80.72 L220.87,79.30 L221.32,77.91 L221.77,76.54 L222.23,75.18 L222.68,73.85 L223.13,72.53 L223.58,71.24 L224.03,69.96 L224.48,68.71 L224.94,67.48 L225.39,66.28 L225.84,65.11 L226.29,63.97 L226.74,62.85 L227.19,61.78 L227.64,60.73 L228.10,59.72 L228.55,58.75 L229.00,57.82 L229.45,56.93 L229.90,56.09 L230.35,55.28 L230.81,54.53 L231.26,53.82 L231.71,53.16 L232.16,52.55 L232.61,51.99 L233.06,51.48 L233.51,51.02 L233.97,50.60 L234.42,50.22 L234.87,49.88 L235.32,49.57 L235.77,49.30 L236.22,49.07 L236.68,48.86 L237.13,48.68 L237.58,48.54 L238.03,48.45 L238.48,48.39 L238.93,48.39 L239.39,48.45 L239.84,48.57 L240.29,48.74 L240.74,48.99 L241.19,49.30 L241.64,49.68 L242.09,50.13 L242.55,50.66 L243.00,51.27 L243.45,51.95 L243.90,52.68 L244.35,53.45 L244.80,54.24 L245.26,55.03 L245.71,55.82 L246.16,56.59 L246.61,57.35 L247.06,58.10 L247.51,58.84 L247.97,59.58 L248.42,60.31 L248.87,61.05 L249.32,61.78 L249.77,62.53 L250.22,63.28 L250.67,64.03 L251.13,64.79 L251.58,65.55 L252.03,66.30 L252.48,67.04 L252.93,67.77 L253.38,68.48 L253.84,69.16 L254.29,69.82 L254.74,70.45 L255.19,71.05 L255.64,71.63 L256.09,72.20 L256.09,72.20 L256.60,72.20 L257.11,72.20 L257.62,72.20 L258.12,72.20 L258.63,72.20 L259.14,72.20 L259.65,72.20 L260.15,72.20 L260.15,72.20 L260.60,71.43 L261.06,70.67 L261.51,69.90 L261.96,69.13 L262.41,68.37 L262.86,67.59 L263.31,66.82 L263.76,66.04 L264.21,65.26 L264.67,64.47 L265.12,63.66 L265.57,62.84 L266.02,62.00 L266.47,61.14 L266.92,60.25 L267.37,59.32 L267.83,58.37 L268.28,57.38 L268.73,56.35 L269.18,55.29 L269.63,54.20 L270.08,53.09 L270.53,51.95 L270.98,50.80 L271.44,49.63 L271.89,48.45 L272.34,47.27 L272.79,46.08 L273.24,44.89 L273.69,43.70 L274.14,42.52 L274.60,41.35 L275.05,40.20 L275.50,39.06 L275.95,37.95 L276.40,36.86 L276.85,35.80 L277.30,34.77 L277.76,33.77 L278.21,32.81 L278.66,31.88 L279.11,30.98 L279.56,30.12 L280.01,29.28 L280.46,28.48 L280.91,27.70 L281.37,26.96 L281.82,26.24 L282.27,25.55 L282.72,24.89 L283.17,24.26 L283.62,23.65 L284.07,23.07 L284.53,22.52 L284.98,21.99 L285.43,21.48 L285.88,21.00 L286.33,20.55 L286.78,20.12 L287.23,19.71 L287.68,19.32 L288.14,18.96 L288.59,18.62 L289.04,18.31 L289.49,18.02 L289.94,17.75 L290.39,17.51 L290.84,17.29 L291.30,17.10 L291.75,16.92 L292.20,16.77 L292.65,16.65 L293.10,16.55 L293.55,16.47 L294.00,16.42 L294.46,16.39 L294.91,16.38 L295.36,16.40 L295.81,16.44 L296.26,16.50 L296.71,16.59 L297.16,16.71 L297.61,16.85 L298.07,17.01 L298.52,17.20 L298.97,17.41 L299.42,17.65 L299.87,17.92 L300.32,18.21 L300.77,18.53 L301.23,18.87 L301.68,19.24 L302.13,19.64 L302.58,20.06 L303.03,20.52 L303.48,21.00 L303.93,21.50 L304.38,22.04 L304.84,22.61 L305.29,23.20 L305.74,23.82 L306.19,24.47 L306.64,25.14 L307.09,25.85 L307.54,26.58 L308.00,27.34 L308.45,28.13 L308.90,28.95 L309.35,29.80 L309.80,30.67 L310.25,31.57 L310.70,32.50 L311.16,33.46 L311.61,34.44 L312.06,35.46 L312.51,36.50 L312.96,37.57 L313.41,38.66 L313.86,39.79 L314.31,40.94 L314.77,42.12 L315.22,43.32 L315.67,44.54 L316.12,45.79 L316.57,47.05 L317.02,48.34 L317.47,49.64 L317.93,50.97 L318.38,52.31 L318.83,53.67 L319.28,55.04 L319.73,56.42 L320.18,57.82 L320.63,59.23 L321.08,60.65 L321.54,62.08 L321.99,63.52 L322.44,64.97 L322.89,66.43 L323.34,67.89 L323.79,69.36 L324.24,70.83 L324.70,72.31 L325.15,73.79 L325.60,75.28 L326.05,76.77 L326.50,78.27 L326.95,79.77 L327.40,81.27 L327.85,82.78 L328.31,84.29 L328.76,85.80 L329.21,87.31 L329.66,88.82 L330.11,90.33 L330.56,91.84 L331.01,93.35 L331.47,94.86 L331.92,96.36 L332.37,97.87 L332.82,99.37 L333.27,100.87 L333.72,102.36 L334.17,103.84 L334.63,105.32 L335.08,106.80 L335.53,108.26 L335.98,109.72 L336.43,111.16 L336.88,112.60 L337.33,114.02 L337.78,115.43 L338.24,116.83 L338.69,118.22 L339.14,119.59 L339.59,120.94 L340.04,122.28 L340.49,123.61 L340.94,124.91 L341.40,126.20 L341.85,127.47 L342.30,128.73 L342.75,129.96 L343.20,131.18 L343.65,132.39 L344.10,133.57 L344.55,134.74 L345.01,135.89 L345.46,137.03 L345.91,138.15 L346.36,139.25 L346.81,140.33 L347.26,141.40 L347.71,142.45 L348.17,143.49 L348.62,144.51 L349.07,145.51 L349.52,146.49 L349.97,147.46 L350.42,148.41 L350.87,149.34 L351.33,150.26 L351.78,151.16 L352.23,152.05 L352.68,152.92 L353.13,153.77 L353.58,154.61 L354.03,155.43 L354.48,156.24 L354.94,157.04 L355.39,157.81 L355.84,158.58 L356.29,159.33 L356.74,160.06 L357.19,160.78 L357.64,161.49 L358.10,162.18 L358.55,162.86 L359.00,163.53 L359.45,164.18 L359.90,164.82 L360.35,165.44 L360.80,166.05 L361.25,166.65 L361.71,167.24 L362.16,167.81 L362.61,168.37 L363.06,168.92 L363.51,169.45 L363.96,169.98 L364.41,170.49 L364.87,170.99 L365.32,171.47 L365.77,171.95 L366.22,172.41 L366.67,172.87 L367.12,173.31 L367.57,173.74 L368.02,174.16 L368.48,174.57 L368.93,174.97 L369.38,175.36 L369.83,175.73 L370.28,176.10 L370.73,176.46 L371.18,176.81 L371.64,177.15 L372.09,177.48 L372.54,177.81 L372.99,178.12 L373.44,178.43 L373.89,178.73 L374.34,179.02 L374.80,179.30 L375.25,179.58 L375.70,179.85 L376.15,180.11 L376.60,180.37 L377.05,180.62 L377.50,180.86 L377.95,181.10 L378.41,181.33 L378.86,181.55 L379.31,181.76 L379.76,181.97 L380.21,182.18 L380.66,182.37 L381.11,182.56 L381.57,182.75 L382.02,182.92 L382.47,183.09 L382.92,183.25 L383.37,183.41 L383.82,183.56 L384.27,183.70 L384.72,183.83 L385.18,183.96 L385.63,184.08 L386.08,184.19 L386.53,184.30 L386.98,184.40 L387.43,184.49 L387.88,184.58 L388.34,184.65 L388.79,184.72 L389.24,184.79 L389.69,184.84 L390.14,184.89 L390.59,184.93 L391.04,184.97 L391.50,184.99 L391.95,185.01 L392.40,185.02 L392.85,185.03 L393.30,185.02 L393.75,185.01 L394.20,184.99 L394.65,184.97 L395.11,184.93 L395.56,184.89 L396.01,184.84 L396.46,184.79 L396.91,184.72 L397.36,184.65 L397.81,184.57 L398.27,184.48 L398.72,184.39 L399.17,184.29 L399.62,184.18 L400.07,184.06 L400.52,183.93 L400.97,183.80 L401.42,183.65 L401.88,183.50 L402.33,183.34 L402.78,183.18 L403.23,183.00 L403.68,182.82 L404.13,182.63 L404.58,182.43 L405.04,182.22 L405.49,182.01 L405.94,181.79 L406.39,181.55 L406.84,181.31 L407.29,181.07 L407.74,180.81 L408.20,180.55 L408.65,180.27 L409.10,179.99 L409.55,179.70 L410.00,179.41 L410.45,179.10 L410.90,178.79 L411.35,178.46 L411.81,178.13 L412.26,177.79 L412.71,177.44 L413.16,177.09 L413.61,176.72 L414.06,176.35 L414.51,175.97 L414.97,175.58 L415.42,175.18 L415.87,174.77 L416.32,174.35 L416.77,173.93 L417.22,173.50 L417.67,173.05 L418.12,172.60 L418.58,172.14 L419.03,171.68 L419.48,171.20 L419.93,170.71 L420.38,170.22 L420.83,169.72 L421.28,169.21 L421.74,168.69 L422.19,168.16 L422.64,167.62 L423.09,167.07 L423.54,166.52 L423.99,165.95 L424.44,165.38 L424.89,164.80 L425.35,164.21 L425.80,163.61 L426.25,163.00 L426.70,162.38 L427.15,161.76 L427.60,161.12 L428.05,160.48 L428.51,159.83 L428.96,159.17 L429.41,158.50 L429.86,157.82 L430.31,157.14 L430.76,156.44 L431.21,155.74 L431.67,155.02 L432.12,154.30 L432.57,153.57 L433.02,152.83 L433.47,152.08 L433.92,151.32 L434.37,150.56 L434.82,149.78 L435.28,149.00 L435.73,148.20 L436.18,147.40 L436.63,146.59 L437.08,145.77 L437.53,144.93 L437.98,144.09 L438.44,143.24 L438.89,142.39 L439.34,141.52 L439.79,140.64 L440.24,139.75 L440.69,138.85 L441.14,137.95 L441.59,137.03 L442.05,136.11 L442.50,135.18 L442.95,134.24 L443.40,133.29 L443.85,132.34 L444.30,131.37 L444.75,130.40 L445.21,129.42 L445.66,128.43 L446.11,127.44 L446.56,126.44 L447.01,125.43 L447.46,124.42 L447.91,123.40 L448.37,122.37 L448.82,121.34 L449.27,120.30 L449.72,119.25 L450.17,118.20 L450.62,117.14 L451.07,116.07 L451.52,115.00 L451.98,113.92 L452.43,112.83 L452.88,111.74 L453.33,110.64 L453.78,109.52 L454.23,108.41 L454.68,107.28 L455.14,106.15 L455.59,105.00 L456.04,103.85 L456.49,102.69 L456.94,101.52 L457.39,100.35 L457.84,99.16 L458.29,97.97 L458.75,96.76 L459.20,95.56 L459.65,94.34 L460.10,93.12 L460.55,91.90 L461.00,90.68 L461.45,89.45 L461.91,88.22 L462.36,87.00 L462.81,85.77 L463.26,84.55 L463.71,83.33 L464.16,82.11 L464.61,80.90 L465.07,79.69 L465.52,78.49 L465.97,77.29 L466.42,76.11 L466.87,74.93 L467.32,73.77 L467.77,72.61 L468.22,71.46 L468.68,70.32 L469.13,69.19 L469.58,68.07 L470.03,66.97 L470.48,65.87 L470.93,64.78 L471.38,63.70 L471.84,62.63 L472.29,61.57 L472.74,60.52 L473.19,59.48 L473.64,58.45 L474.09,57.44 L474.54,56.43 L474.99,55.44 L475.45,54.45 L475.90,53.48 L476.35,52.51 L476.80,51.56 L477.25,50.62 L477.70,49.69 L478.15,48.78 L478.61,47.87 L479.06,46.98 L479.51,46.10 L479.96,45.24 L480.41,44.39 L480.86,43.55 L481.31,42.72 L481.76,41.91 L482.22,41.12 L482.67,40.33 L483.12,39.56 L483.57,38.81 L484.02,38.07 L484.47,37.35 L484.92,36.64 L485.38,35.95 L485.83,35.27 L486.28,34.61 L486.73,33.96 L487.18,33.31 L487.63,32.68 L488.08,32.06 L488.54,31.45 L488.99,30.85 L489.44,30.26 L489.89,29.67 L490.34,29.09 L490.79,28.51 L491.24,27.94 L491.69,27.37 L492.15,26.81 L492.60,26.25 L493.05,25.69 L493.50,25.13" stroke="#00aa00"/>
</g>
<g><g font-size="17.8" fill="#000"><text transform="translate(42.25,307.7) scale(0.91,1)" text-anchor="middle">0</text><text transform="translate(222.65,307.7) scale(0.91,1)" text-anchor="middle">2</text><text transform="translate(312.85,307.7) scale(0.91,1)" text-anchor="middle">3</text><text transform="translate(403.05,307.7) scale(0.91,1)" text-anchor="middle">4</text><text transform="translate(493.25,307.7) scale(0.91,1)" text-anchor="middle">5</text><text transform="translate(38.3,238.10) scale(0.96,1)" font-size="17.2" text-anchor="end">2</text><text transform="translate(38.3,182.40) scale(0.96,1)" font-size="17.2" text-anchor="end">3</text><text transform="translate(38.3,126.70) scale(0.96,1)" font-size="17.2" text-anchor="end">4</text><text transform="translate(38.3,71.00) scale(0.96,1)" font-size="17.2" text-anchor="end">5</text><text transform="translate(38.3,15.30) scale(0.96,1)" font-size="17.2" text-anchor="end">6</text></g>
<path d="M133.90,295.30 L133.90,307.60 L132.30,307.60 L132.30,298.20 Q130.90,299.50 129.20,299.90 L129.20,298.50 Q131.50,297.60 132.75,295.30 Z" fill="#000"/><path d="M35.20,281.90 L35.20,293.90 L33.60,293.90 L33.60,284.80 Q32.20,286.10 30.50,286.50 L30.50,285.10 Q32.80,284.20 34.05,281.90 Z" fill="#000"/>
<g><text transform="translate(256.9,86.1) scale(0.965,1)" fill="#00aa00" font-size="12.4"><tspan font-style="italic">N</tspan>=6</text><text transform="translate(247.8,136.3) scale(0.965,1)" fill="#ff0000" font-size="12.4"><tspan font-style="italic">N</tspan>=5</text><text transform="translate(238.8,186.3) scale(0.965,1)" fill="#0000ff" font-size="12.4"><tspan font-style="italic">N</tspan>=4</text><text transform="translate(229.7,236.4) scale(0.965,1)" fill="#000000" font-size="12.4"><tspan font-style="italic">N</tspan>=3</text></g>
<text x="268.00" y="334.0" font-size="16.5" text-anchor="middle" fill="#000">A/Ω</text>
<g transform="translate(17.4,148.1) rotate(-90)" fill="#000"><text x="-9.05" y="0.4" font-size="16.5">e</text><text transform="translate(0.1,-7.4) scale(0.87,1)" font-size="13" font-style="italic">S</text></g>
</svg>
</body></html>
